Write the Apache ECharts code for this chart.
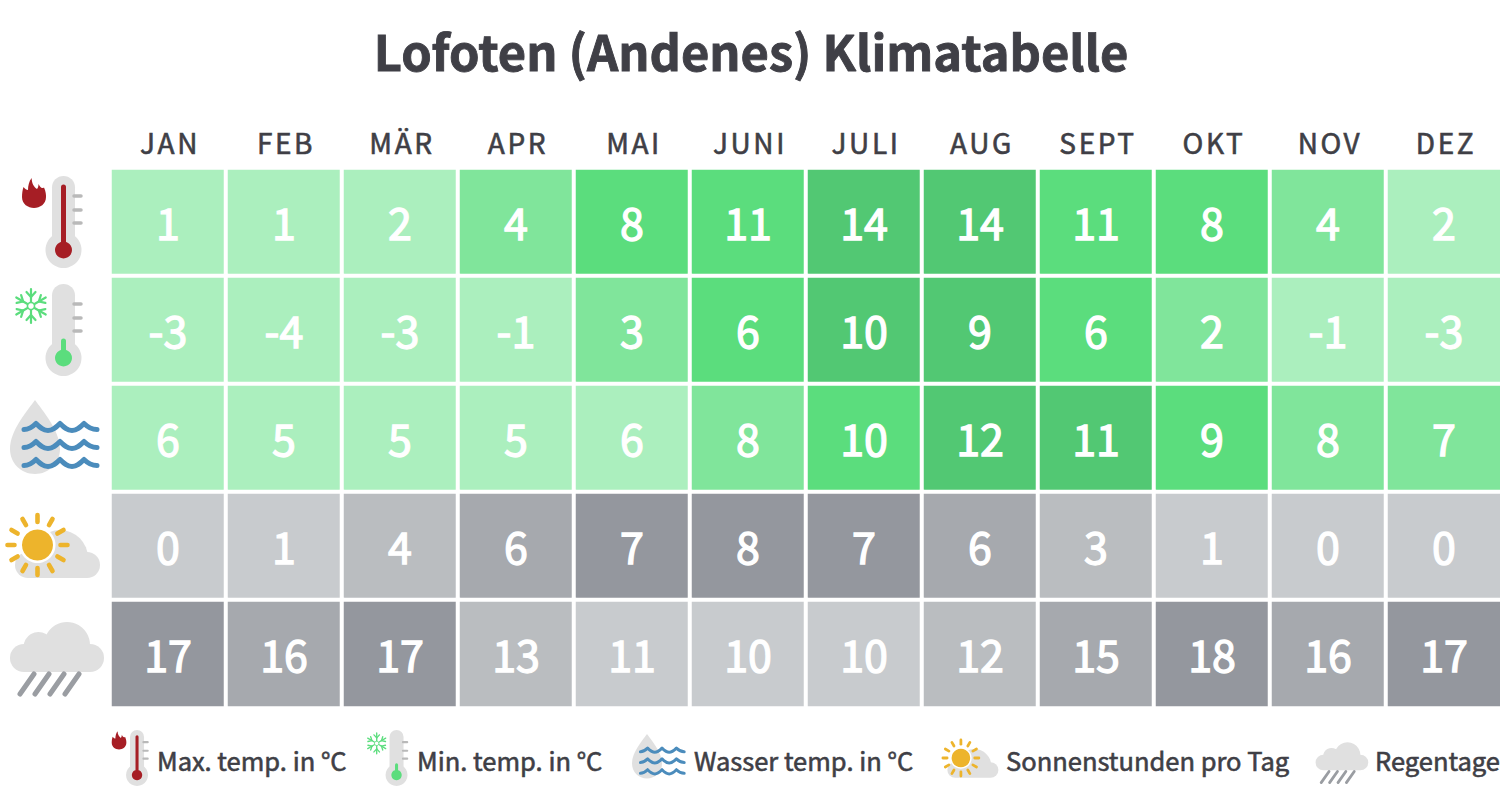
<!DOCTYPE html>
<html>
<head>
<meta charset="utf-8">
<style>
html,body{margin:0;padding:0;background:#fff;overflow:hidden}
#main{width:1504px;height:808px}
#main svg text[style*="28px"]{letter-spacing:2.6px}
</style>
<script src="https://cdn.jsdelivr.net/npm/echarts@6/dist/echarts.min.js"></script>
</head>
<body>
<div id="main"></div>
<script>
const months = ['JAN', 'FEB', 'MÄR', 'APR', 'MAI', 'JUNI', 'JULI', 'AUG', 'SEPT', 'OKT', 'NOV', 'DEZ'];
const rowNames = ['Max. temp. in °C', 'Min. temp. in °C', 'Wasser temp. in °C', 'Sonnenstunden pro Tag', 'Regentage'];
const maxTemp = [1, 1, 2, 4, 8, 11, 14, 14, 11, 8, 4, 2];
const minTemp = [-3, -4, -3, -1, 3, 6, 10, 9, 6, 2, -1, -3];
const waterTemp = [6, 5, 5, 5, 6, 8, 10, 12, 11, 9, 8, 7];
const sunHours = [0, 1, 4, 6, 7, 8, 7, 6, 3, 1, 0, 0];
const rainDays = [17, 16, 17, 13, 11, 10, 10, 12, 15, 18, 16, 17];
const rows = [maxTemp, minTemp, waterTemp, sunHours, rainDays];

// upper limit of the three lower colour classes, per row
const limits = [[2, 7, 12], [1, 5, 8], [6, 8, 10], [2, 5, 6], [11, 13, 16]];
const greens = ['#abefbe', '#80e59b', '#5bdd7d', '#52c873'];
const greys = ['#c8cbce', '#babdc0', '#a6a9ae', '#94979e'];
const palettes = [greens, greens, greens, greys, greys];

const FONT = '"Noto Sans CJK SC", "Noto Sans", sans-serif';
const TEXT = '#3f3f46';
const GREY = '#e0e0e0';
const RED = '#a61e25';
const GREEN = '#5bdd7d';
const YELLOW = '#edb42c';
const BLUE = '#4b8cbc';

// icon outlines, each starts at 0,0 of its own group
const shapes = {
  flame: 'M9.7 0C9.5 5 12 9 15 11C16 10 16.5 8 16.5 6C18 9 19.5 11 22 9.5C24 14 24 17 24 19C24 26 18 30 12 30C6 30 0 26 0 19C0 15 .5 12 1.5 9C3 11 4.5 12 6 12C6 8 7 3 9.7 0Z',
  drop: 'M25 0C32 10 50 30 50 49C50 63 39 74 25 74C11 74 0 63 0 49C0 30 18 10 25 0Z',
  wave: 'M0 6C5 6 8 4 12 0C16 4 19 7 24 7C29 7 32 4 36 0C40 4 43 7 48 7C53 7 56 4 60 0C64 4 68 6 73 6',
  cloudTop: 'M0 28A28 28 0 0 1 56 28Z'
};
Object.keys(shapes).forEach(function (k) {
  echarts.graphic.registerShape(k, echarts.graphic.extendPath(shapes[k], {}));
});

function line(x1, y1, x2, y2, color, width) {
  return {
    type: 'line',
    shape: { x1: x1, y1: y1, x2: x2, y2: y2 },
    style: { stroke: color, lineWidth: width, lineCap: 'round' }
  };
}
function circle(cx, cy, r, color) {
  return { type: 'circle', shape: { cx: cx, cy: cy, r: r }, style: { fill: color } };
}
function box(x, y, w, h, r, color) {
  return { type: 'rect', shape: { x: x, y: y, width: w, height: h, r: r }, style: { fill: color } };
}
function outline(name, x, y, style) {
  return { type: 'group', x: x, y: y, children: [{ type: name, style: style }] };
}

// all icons are drawn in the coordinates of their place next to the table
function thermometer(barTop, barColor) {
  return [
    box(52, 176, 23, 80, 11.5, GREY),
    circle(63.5, 250, 18, GREY),
    line(74, 196, 81, 196, '#b9b9b9', 3.5),
    line(74, 210, 81, 210, '#b9b9b9', 3.5),
    line(74, 223, 81, 223, '#b9b9b9', 3.5),
    line(63.5, barTop, 63.5, 250, barColor, 5),
    circle(63.5, 250, 8.5, barColor)
  ];
}
function hotIcon() {
  return thermometer(187, RED).concat([outline('flame', 22, 178, { fill: RED })]);
}
function coldIcon() {
  const parts = thermometer(233, GREEN);
  const cx = 31, cy = 198;
  for (let i = 0; i < 6; i++) {
    const a = i * Math.PI / 3 - Math.PI / 2;
    const px = function (r, off) { return cx + r * Math.cos(a) - off * Math.sin(a); };
    const py = function (r, off) { return cy + r * Math.sin(a) + off * Math.cos(a); };
    parts.push(line(px(4.5, 0), py(4.5, 0), px(17, 0), py(17, 0), GREEN, 2.2));
    parts.push(line(px(9, 0), py(9, 0), px(14, 4.5), py(14, 4.5), GREEN, 2.2));
    parts.push(line(px(9, 0), py(9, 0), px(14, -4.5), py(14, -4.5), GREEN, 2.2));
  }
  parts.push({ type: 'circle', shape: { cx: cx, cy: cy, r: 3.6 }, style: { fill: 'none', stroke: GREEN, lineWidth: 1.6 } });
  return parts;
}
function waterIcon() {
  const parts = [outline('drop', 10, 400, { fill: GREY })];
  [423.5, 441.5, 459.5].forEach(function (y) {
    parts.push(outline('wave', 24, y, { fill: 'none', stroke: BLUE, lineWidth: 5, lineCap: 'round', lineJoin: 'round' }));
  });
  return parts;
}
function sunIcon() {
  const cx = 37.5, cy = 545;
  const parts = [
    box(15, 552, 85, 26, 13, GREY),
    outline('cloudTop', 32, 530, { fill: GREY }),
    circle(cx, cy, 18, '#fff'),
    circle(cx, cy, 15.5, YELLOW)
  ];
  for (let i = 0; i < 12; i++) {
    const a = i * Math.PI / 6;
    parts.push(line(cx + 23 * Math.cos(a), cy + 23 * Math.sin(a), cx + 30 * Math.cos(a), cy + 30 * Math.sin(a), YELLOW, 4.6));
  }
  return parts;
}
function rainIcon() {
  const parts = [
    box(10, 644, 94, 28, 14, GREY),
    circle(67, 645, 23, GREY),
    circle(38.5, 647, 15, GREY)
  ];
  [35, 50, 65, 80].forEach(function (x) {
    parts.push(line(x - 1, 674, x - 15, 694, '#9a9da2', 5));
  });
  return parts;
}
function icon(children, tx, ty, scale) {
  return { type: 'group', x: tx, y: ty, scaleX: scale, scaleY: scale, children: children };
}
function legendText(label, x) {
  return {
    type: 'text', x: x, y: 759,
    style: { text: label, fill: TEXT, stroke: TEXT, lineWidth: 0.6, font: '25.5px ' + FONT, textVerticalAlign: 'middle' }
  };
}

const series = rows.map(function (values, r) {
  return {
    type: 'heatmap',
    name: rowNames[r],
    data: values.map(function (v, c) { return [c, r, v]; }),
    label: {
      show: true, color: '#fff', fontFamily: FONT, fontSize: 43, offset: [0, -1],
      textBorderColor: '#fff', textBorderWidth: 1.3,
      formatter: function (p) { return p.value[2]; }
    },
    itemStyle: { borderColor: '#fff', borderWidth: 4 },
    emphasis: { disabled: true }
  };
});

const visualMaps = rows.map(function (values, r) {
  const lim = limits[r];
  const pal = palettes[r];
  return {
    type: 'piecewise', show: false, seriesIndex: r, dimension: 2,
    pieces: [
      { lte: lim[0], color: pal[0] },
      { gt: lim[0], lte: lim[1], color: pal[1] },
      { gt: lim[1], lte: lim[2], color: pal[2] },
      { gt: lim[2], color: pal[3] }
    ]
  };
});

const chart = echarts.init(document.getElementById('main'), null, { renderer: 'svg' });
chart.setOption({
  backgroundColor: '#fff',
  animation: false,
  title: {
    text: 'Lofoten (Andenes) Klimatabelle',
    left: 746, top: 20, textAlign: 'center',
    textStyle: { color: TEXT, fontFamily: FONT, fontSize: 48.8, textBorderColor: TEXT, textBorderWidth: 0.9 }
  },
  grid: { left: 110, top: 168, width: 1392, height: 540 },
  xAxis: {
    type: 'category', position: 'top', data: months,
    axisLine: { show: false }, axisTick: { show: false }, splitLine: { show: false },
    axisLabel: { color: TEXT, fontFamily: FONT, fontSize: 28, margin: 12, padding: [0, 0, 0, 4], textBorderColor: TEXT, textBorderWidth: 0.6 }
  },
  yAxis: { type: 'category', inverse: true, data: rowNames, show: false },
  visualMap: visualMaps,
  series: series,
  graphic: {
    elements: [
      icon(hotIcon(), 0, 0, 1),
      icon(coldIcon(), 0, 108, 1),
      icon(waterIcon(), 0, 0, 1),
      icon(sunIcon(), 0, 0, 1),
      icon(rainIcon(), 0, 0, 1),
      icon(hotIcon(), 98.3, 622.6, 0.61),
      icon(coldIcon(), 357.8, 622.6, 0.61),
      icon(waterIcon(), 626, 494, 0.6),
      icon(sunIcon(), 938.4, 431, 0.6),
      icon(rainIcon(), 1310, 394, 0.56),
      legendText(rowNames[0], 157),
      legendText(rowNames[1], 417),
      legendText(rowNames[2], 694),
      legendText(rowNames[3], 1006),
      legendText(rowNames[4], 1375)
    ]
  }
});
</script>
</body>
</html>
